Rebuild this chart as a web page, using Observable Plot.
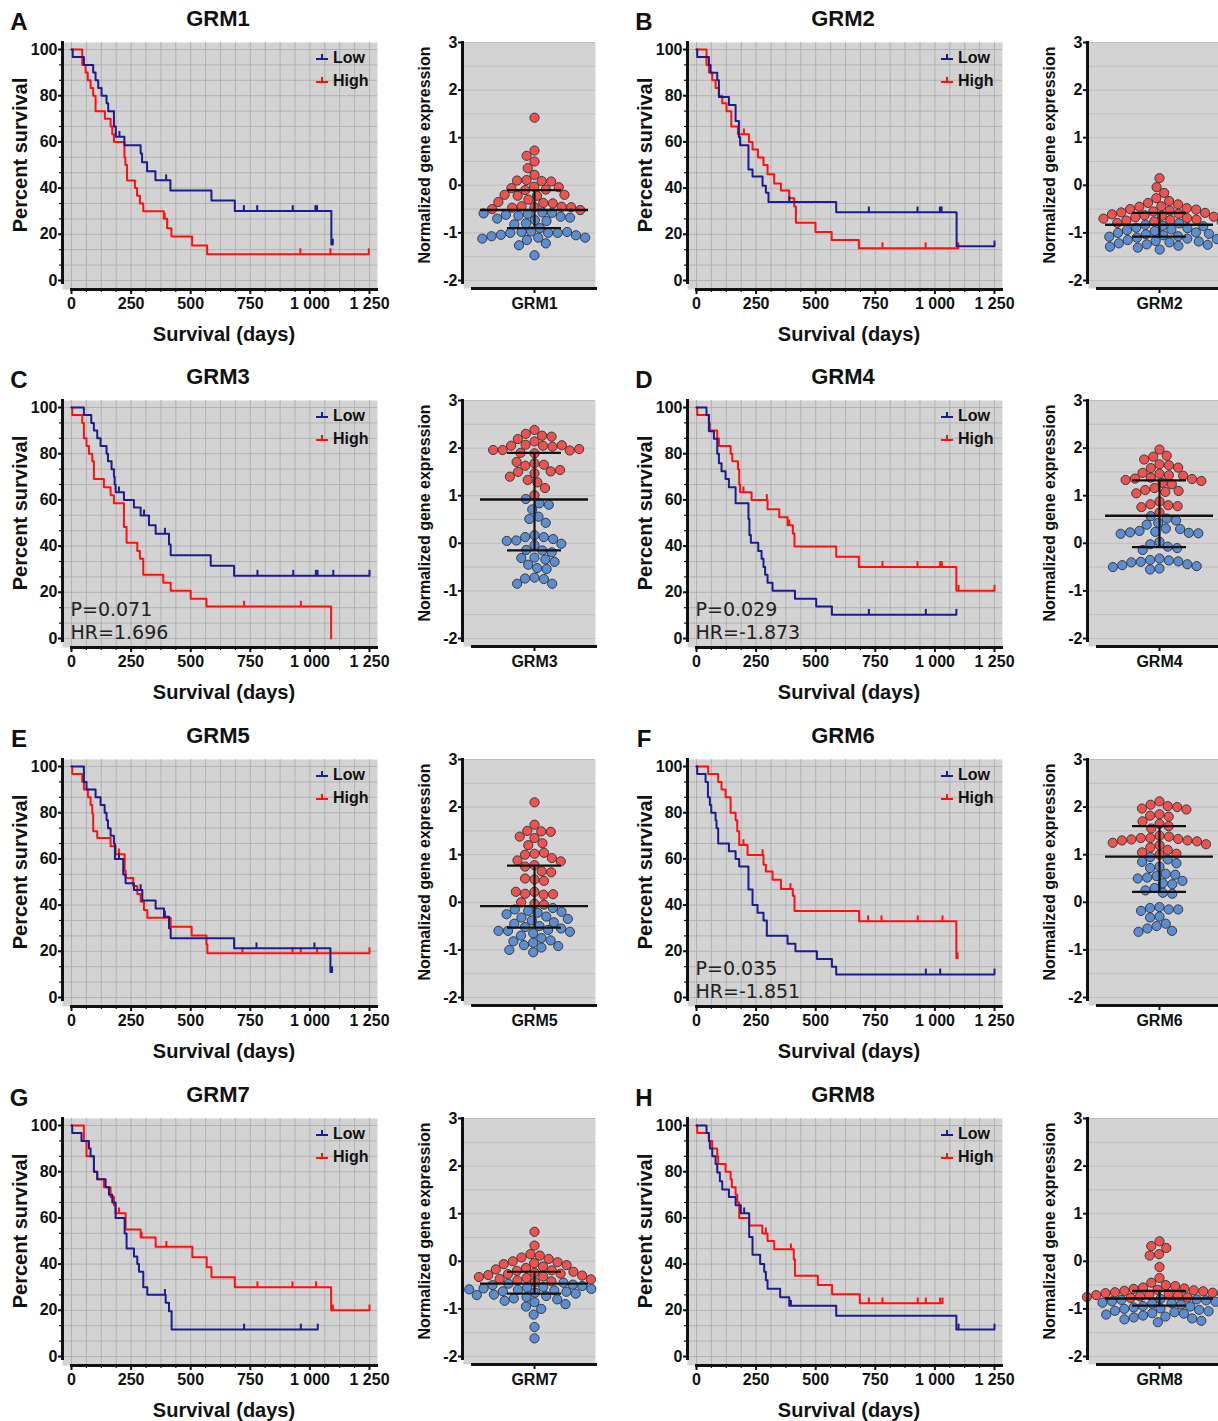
<!DOCTYPE html>
<html><head><meta charset="utf-8">
<script src="https://cdn.jsdelivr.net/npm/d3@7"></script>
<script src="https://cdn.jsdelivr.net/npm/@observablehq/plot@0.6"></script>
<style>
body{margin:0;background:#fff;}
#root{position:relative;width:1218px;height:1421px;overflow:hidden;font-family:"Liberation Sans",Arial,sans-serif;color:#111;}
.abs{position:absolute;}
.t{position:absolute;transform:translate(-50%,-50%);white-space:nowrap;line-height:1;font-weight:bold;color:#111;}
.ln{position:absolute;background:#111;}
</style></head><body><div id="root"></div>
<script>
// ---------- panel meta ----------
const genes = ["GRM1","GRM2","GRM3","GRM4","GRM5","GRM6","GRM7","GRM8"];
const panelLetters = ["A","B","C","D","E","F","G","H"];
const pLabels = ["","","P=0.071","P=0.029","","P=0.035","",""];
const hrLabels = ["","","HR=1.696","HR=-1.873","","HR=-1.851","",""];
const groupNames = ["Low","High"];
const kmXTicks = [0,250,500,750,1000,1250];
const kmYTicks = [0,20,40,60,80,100];
const exprYTicks = [-2,-1,0,1,2,3];

// ---------- Kaplan-Meier steps: [day, percent survival] ----------
const grm1LowSteps = [[0,100],[5,96.7],[52,93.3],[91,90],[101,86.7],[112,83.3],[126,80],[147,76.7],[154,73.3],[178,66.7],[186,62.2],[222,58.5],[290,55],[296,51.2],[317,47.3],[352,43.4],[415,39],[587,34.6],[685,30.1],[1090,15.6]];
const grm1LowCensor = [201,397,723,779,928,1023,1030,1096];
const grm1HighSteps = [[0,100],[45,93.3],[59,90],[68,86.7],[80,83.3],[91,80],[101,73.3],[140,70],[164,66.7],[171,63.3],[178,60],[222,53.3],[226,50],[233,43.3],[266,40],[275,36.7],[287,33.3],[301,30],[387,26.7],[401,22.6],[419,19],[506,15.2],[569,11.4]];
const grm1HighCensor = [391,960,1086,1247];

const grm2LowSteps = [[0,100],[3,96.7],[52,93.3],[59,89.9],[87,86.7],[94,79.4],[136,76],[164,69],[178,62],[183,58.5],[218,48],[235,45],[277,41],[291,38],[302,34],[586,29.5],[1091,14.8]];
const grm2LowCensor = [389,723,927,1021,1028,1250];
const grm2HighSteps = [[0,100],[42,93.3],[52,90],[66,86.7],[80,83.3],[94,80],[108,76.7],[126,73.3],[146,66.7],[174,63.3],[220,60],[235,56.7],[258,53.3],[281,50],[298,46],[326,42],[354,39],[389,35.6],[410,32],[417,25],[499,21],[567,17.5],[681,14]];
const grm2HighCensor = [199,780,961,1098];

const grm3LowSteps = [[0,100],[52,96.7],[83,93.3],[94,90],[108,86.7],[122,83.3],[147,80],[153,76.7],[168,73.3],[178,70],[181,66.7],[185,63.3],[220,60],[262,56.7],[290,53.3],[325,49],[353,45.4],[409,40.7],[416,36],[584,31.5],[682,27.2]];
const grm3LowCensor = [199,304,392,780,930,1025,1032,1098,1250];
const grm3HighSteps = [[0,100],[3,96.7],[45,93.3],[52,86.7],[63,83.3],[73,80],[87,76.7],[94,69],[136,65.5],[164,62],[178,58.6],[220,48.3],[231,41.4],[276,37.9],[287,34.5],[301,27.6],[385,24.1],[416,20.7],[500,17.2],[566,13.8],[1089,0]];
const grm3HighCensor = [724,962];

const grm4LowSteps = [[0,100],[42,96.7],[52,89.7],[73,86.5],[87,80],[94,75.9],[105,72.4],[122,69],[136,65.5],[164,58.6],[218,51.7],[222,44.8],[228,41.4],[259,37.9],[273,34.5],[281,31],[288,27.6],[298,24.1],[319,20.7],[413,17.2],[502,13.8],[568,10.3]];
const grm4LowCensor = [723,962,1090];
const grm4HighSteps = [[0,100],[3,96.7],[52,93.3],[56,90],[87,86.7],[94,83.3],[143,80],[150,76.7],[174,73.3],[179,66.7],[183,63.3],[231,60],[298,56],[347,52.5],[382,49],[404,45.5],[411,39.8],[586,35.4],[681,31],[1090,20.7]];
const grm4HighCensor = [197,295,389,780,927,1022,1029,1099,1250];

const grm5LowSteps = [[0,100],[52,93.3],[63,90],[101,86.7],[122,83.3],[139,80],[147,76.7],[153,73.3],[164,70],[178,66.7],[182,60],[217,53.3],[227,49.5],[262,46.5],[297,42],[353,38.5],[388,35],[409,30],[416,25.6],[682,21.3],[1086,11]];
const grm5LowCensor = [199,290,392,776,1019,1093];
const grm5HighSteps = [[0,100],[3,96.7],[45,93.3],[52,90],[69,86.7],[80,83.3],[87,79.6],[91,72],[108,69],[164,65.5],[185,62],[223,55],[227,51.7],[259,48.3],[276,44.8],[290,41.4],[304,37.9],[318,34.5],[416,30.6],[504,26.8],[566,23],[570,19.2]];
const grm5HighCensor = [199,717,927,962,1030,1250];

const grm6LowSteps = [[0,100],[3,96.7],[38,93.3],[48,86.7],[56,83.3],[62,80],[80,76.7],[84,73.3],[91,66.7],[136,63.3],[164,60],[179,56.7],[218,46.7],[235,40],[256,36.7],[281,33.3],[295,26.7],[382,23.3],[415,20],[505,16.7],[568,13.3],[586,10]];
const grm6LowCensor = [962,1022,1250];
const grm6HighSteps = [[0,100],[49,96.7],[91,93.3],[105,90],[122,86.7],[143,80],[164,76.7],[171,72],[179,66],[214,61.7],[281,57.5],[291,54.5],[319,51],[354,47],[404,44],[411,37.4],[682,33],[1090,17]];
const grm6HighCensor = [197,277,394,720,776,928,1032,1095];

const grm7LowSteps = [[0,100],[3,96.7],[42,93.3],[73,90],[80,86.7],[94,80],[108,76.7],[143,73.3],[157,70],[171,66.7],[185,60],[223,53.3],[231,46.7],[262,43.3],[276,40],[283,36.7],[301,30],[318,26.7],[395,23.3],[409,19.6],[420,11.7]];
const grm7LowCensor = [392,724,962,1033];
const grm7HighSteps = [[0,100],[52,93.3],[63,86.7],[94,80],[108,76.7],[136,73.3],[164,69],[178,65.5],[185,62],[227,55],[290,51.5],[353,47.5],[507,43],[567,38.6],[587,34.3],[685,30],[1089,20]];
const grm7HighCensor = [199,294,398,780,927,1026,1096,1250];

const grm8LowSteps = [[0,100],[42,96.7],[52,93.3],[56,90],[66,86.7],[80,83.3],[87,79.6],[98,75.9],[108,72.3],[136,69],[164,65.5],[186,62],[221,51.7],[235,44],[267,40],[284,36.7],[291,33],[298,29.3],[351,25.6],[389,22],[586,17.6],[1090,11.7]];
const grm8LowCensor = [200,396,1099,1250];
const grm8HighSteps = [[0,100],[3,96.7],[52,93.3],[66,90],[87,86.7],[91,83.3],[122,80],[143,76.7],[148,73.3],[164,70],[171,66.7],[179,60],[221,56.7],[276,53.3],[298,50],[326,46.4],[408,42],[413,35],[509,31],[569,27],[685,23]];
const grm8HighCensor = [291,396,723,780,928,962,1022,1032];

// ---------- normalized expression values ----------
const grm1ExprHigh = [1.42,0.73,0.62,0.5,0.36,0.22,0.11,0.09,0.08,0.1,-0.03,-0.06,-0.1,-0.04,-0.09,-0.2,-0.22,-0.22,-0.2,-0.3,-0.37,-0.38,-0.35,-0.44,-0.46,-0.47,-0.45,-0.46,-0.5,-0.52];
const grm1ExprLow = [-0.57,-0.58,-0.6,-0.62,-0.64,-0.66,-0.68,-0.7,-0.73,-0.75,-0.8,-0.82,-0.9,-0.97,-0.98,-1.0,-1.0,-1.0,-0.98,-1.04,-1.05,-1.07,-1.1,-1.1,-1.12,-1.15,-1.22,-1.26,-1.47,-0.59];
const grm2ExprHigh = [0.15,-0.04,-0.16,-0.27,-0.33,-0.37,-0.4,-0.44,-0.45,-0.48,-0.5,-0.51,-0.53,-0.55,-0.57,-0.58,-0.6,-0.61,-0.63,-0.64,-0.66,-0.67,-0.69,-0.7,-0.72,-0.73,-0.74,-0.76,-0.77,-0.79];
const grm2ExprLow = [-0.8,-0.83,-0.85,-0.86,-0.89,-0.9,-0.93,-0.94,-0.96,-0.99,-1.0,-1.02,-1.03,-1.05,-1.07,-1.08,-1.1,-1.12,-1.13,-1.15,-1.17,-1.18,-1.2,-1.22,-1.24,-1.25,-1.27,-1.29,-1.31,-1.35];
const grm3ExprHigh = [2.38,2.3,2.26,2.24,2.19,2.14,2.07,2.05,2.03,2.05,2.06,1.96,1.95,1.89,1.9,1.96,1.98,1.68,1.63,1.65,1.71,1.51,1.47,1.5,1.54,1.4,1.33,1.28,1.16,1.01];
const grm3ExprLow = [0.93,0.84,0.81,0.71,0.56,0.51,0.43,0.17,0.13,0.13,0.09,0.06,0.05,-0.01,-0.04,-0.14,-0.15,-0.19,-0.3,-0.31,-0.34,-0.39,-0.45,-0.52,-0.54,-0.72,-0.74,-0.75,-0.85,-0.85];
const grm4ExprHigh = [1.97,1.82,1.84,1.76,1.66,1.64,1.58,1.59,1.46,1.48,1.43,1.42,1.38,1.36,1.35,1.33,1.31,1.27,1.24,1.16,1.12,1.1,1.08,1.05,0.88,0.82,0.8,0.78,0.76,0.65];
const grm4ExprLow = [0.57,0.52,0.48,0.43,0.39,0.31,0.3,0.26,0.24,0.23,0.22,0.21,0.2,0.03,-0.02,-0.07,-0.1,-0.14,-0.32,-0.35,-0.36,-0.38,-0.39,-0.4,-0.44,-0.46,-0.48,-0.5,-0.53,-0.55];
const grm5ExprHigh = [2.1,1.63,1.5,1.49,1.48,1.35,1.38,1.2,1.24,1.02,1.0,1.04,0.93,0.88,0.86,0.78,0.75,0.65,0.63,0.48,0.5,0.45,0.22,0.18,0.16,0.17,0.22,-0.03,0.0,-0.05];
const grm5ExprLow = [-0.12,-0.15,-0.18,-0.2,-0.22,-0.25,-0.3,-0.32,-0.35,-0.38,-0.42,-0.45,-0.5,-0.52,-0.55,-0.58,-0.6,-0.62,-0.6,-0.65,-0.7,-0.75,-0.8,-0.82,-0.85,-0.9,-0.92,-0.95,-1.0,-1.05];
const grm6ExprHigh = [2.12,2.05,2.02,2.0,1.97,1.95,1.85,1.82,1.8,1.7,1.65,1.6,1.55,1.4,1.38,1.35,1.35,1.33,1.32,1.3,1.3,1.28,1.25,1.22,1.2,1.15,1.1,1.05,1.02,1.0];
const grm6ExprLow = [0.95,0.9,0.85,0.82,0.75,0.72,0.6,0.58,0.55,0.52,0.5,0.45,0.4,0.38,0.3,0.25,0.2,0.18,-0.1,-0.12,-0.15,-0.15,-0.18,-0.3,-0.32,-0.45,-0.5,-0.55,-0.6,-0.62];
const grm7ExprHigh = [0.62,0.33,0.15,0.12,0.08,0.05,0.0,-0.02,-0.04,-0.06,-0.08,-0.11,-0.14,-0.17,-0.19,-0.2,-0.22,-0.24,-0.26,-0.27,-0.29,-0.3,-0.32,-0.33,-0.35,-0.37,-0.38,-0.4,-0.42,-0.44];
const grm7ExprLow = [-0.45,-0.47,-0.49,-0.5,-0.52,-0.54,-0.55,-0.57,-0.58,-0.6,-0.61,-0.63,-0.64,-0.66,-0.68,-0.7,-0.71,-0.73,-0.75,-0.78,-0.8,-0.83,-0.86,-0.9,-0.95,-1.0,-1.12,-1.38,-1.62,-0.59];
const grm8ExprHigh = [0.42,0.32,0.28,0.15,0.12,-0.12,-0.35,-0.45,-0.5,-0.52,-0.55,-0.57,-0.58,-0.6,-0.61,-0.62,-0.63,-0.65,-0.66,-0.67,-0.68,-0.69,-0.7,-0.71,-0.72,-0.73,-0.74,-0.75,-0.76,-0.77];
const grm8ExprLow = [-0.79,-0.8,-0.81,-0.82,-0.84,-0.85,-0.87,-0.88,-0.89,-0.91,-0.92,-0.94,-0.95,-0.97,-0.99,-1.0,-1.02,-1.04,-1.05,-1.07,-1.09,-1.1,-1.12,-1.14,-1.16,-1.18,-1.2,-1.22,-1.25,-1.28];

// mean line and error bar ends
const exprMean  = [-0.52,-0.83,0.92,0.58,-0.08,0.96,-0.47,-0.78];
const exprUpper = [-0.1,-0.58,1.9,1.32,0.77,1.6,-0.22,-0.62];
const exprLower = [-0.9,-1.08,-0.15,-0.08,-0.53,0.22,-0.68,-0.93];

// ---------- collections ----------
const lowSteps = [grm1LowSteps,grm2LowSteps,grm3LowSteps,grm4LowSteps,grm5LowSteps,grm6LowSteps,grm7LowSteps,grm8LowSteps];
const lowCensor = [grm1LowCensor,grm2LowCensor,grm3LowCensor,grm4LowCensor,grm5LowCensor,grm6LowCensor,grm7LowCensor,grm8LowCensor];
const highSteps = [grm1HighSteps,grm2HighSteps,grm3HighSteps,grm4HighSteps,grm5HighSteps,grm6HighSteps,grm7HighSteps,grm8HighSteps];
const highCensor = [grm1HighCensor,grm2HighCensor,grm3HighCensor,grm4HighCensor,grm5HighCensor,grm6HighCensor,grm7HighCensor,grm8HighCensor];
const exprHigh = [grm1ExprHigh,grm2ExprHigh,grm3ExprHigh,grm4ExprHigh,grm5ExprHigh,grm6ExprHigh,grm7ExprHigh,grm8ExprHigh];
const exprLow = [grm1ExprLow,grm2ExprLow,grm3ExprLow,grm4ExprLow,grm5ExprLow,grm6ExprLow,grm7ExprLow,grm8ExprLow];

// ---------- styling ----------
const BLUE = "#1c1c8c", RED = "#ff1010";
const DOT_RED = "#f0524f", DOT_BLUE = "#5b8dd3";
const BG = "#d3d3d3", GRID = "#a9a9a9", GRID2 = "#bebebe";
const colX = [0, 625];
const rowY = [0, 358, 717, 1076];
const baseStyle = {background:"transparent", fontFamily:"'Liberation Sans', Arial, sans-serif", fontSize:"16px", fontWeight:"bold", color:"#111", overflow:"visible"};

const root = document.getElementById("root");
function put(el, left, top){ el.style.position="absolute"; el.style.left=left+"px"; el.style.top=top+"px"; root.appendChild(el); }
function txt(s, cx, cy, size, extra={}){
  const d = document.createElement("div"); d.className="t"; d.textContent=s;
  d.style.left=cx+"px"; d.style.top=cy+"px"; d.style.fontSize=size+"px";
  if (extra.rotate) d.style.transform="translate(-50%,-50%) rotate(-90deg)";
  root.appendChild(d);
}
function bar(left, top, w, h){
  const d = document.createElement("div"); d.className="ln";
  d.style.left=left+"px"; d.style.top=top+"px"; d.style.width=w+"px"; d.style.height=h+"px";
  root.appendChild(d);
}
const fmtDays = d => d >= 1000 ? `${Math.floor(d/1000)} ${String(d%1000).padStart(3,"0")}` : String(d);

function extendSteps(steps, cens){
  const last = steps[steps.length-1];
  const end = Math.max(last[0], ...cens);
  return end > last[0] ? [...steps, [end, last[1]]] : steps;
}
function survAt(steps, t){ let s = steps[0][1]; for (const [d,v] of steps) if (d <= t) s = v; return s; }
function censorMarks(steps, cens){ return cens.map(t => ({t, s: survAt(steps, t)})); }

function kmPlot(i){
  const lo = lowSteps[i], hi = highSteps[i];
  const marks = [
    Plot.frame({fill: BG, stroke: null}),
    Plot.gridX(d3.range(0, 1251, 62.5), {stroke: GRID, strokeOpacity: 1, strokeWidth: 0.8}),
    Plot.gridY(d3.range(0, 100.01, 100/15), {stroke: GRID, strokeOpacity: 1, strokeWidth: 0.8}),
    Plot.axisY(d3.range(0, 100.01, 100/15), {anchor:"left", tickSize: 3, tickFormat: () => "", strokeWidth: 1.2, label: null}),
    Plot.axisY(kmYTicks, {anchor:"left", tickSize: 4, tickPadding: 1, strokeWidth: 2, fontSize: 16, fontWeight: "bold", label: null}),
    Plot.axisX(d3.range(0, 1251, 62.5), {anchor:"bottom", tickSize: 3, tickFormat: () => "", strokeWidth: 1.2, label: null}),
    Plot.axisX(kmXTicks, {anchor:"bottom", tickSize: 5, tickPadding: 3, strokeWidth: 2, tickFormat: fmtDays, fontSize: 16, fontWeight: "bold", label: null}),
    Plot.line(extendSteps(hi, highCensor[i]), {x: d => d[0], y: d => d[1], curve: "step-after", stroke: RED, strokeWidth: 2}),
    Plot.ruleX(censorMarks(hi, highCensor[i]), {x: "t", y1: "s", y2: d => d.s + 2.3, stroke: RED, strokeWidth: 2}),
    Plot.line(extendSteps(lo, lowCensor[i]), {x: d => d[0], y: d => d[1], curve: "step-after", stroke: BLUE, strokeWidth: 2}),
    Plot.ruleX(censorMarks(lo, lowCensor[i]), {x: "t", y1: "s", y2: d => d.s + 2.3, stroke: BLUE, strokeWidth: 2})
  ];
  if (pLabels[i]) {
    marks.push(Plot.text([pLabels[i] + "\n" + hrLabels[i]], {
      text: d => d, frameAnchor: "bottom-left", textAnchor: "start", lineAnchor: "bottom",
      lineHeight: 1.16, dx: 8, dy: -9, fontSize: 19, fontWeight: "normal",
      fontFamily: "'DejaVu Sans', Verdana, sans-serif", fill: "#222"
    }));
  }
  return Plot.plot({
    width: 385, height: 320,
    marginLeft: 62, marginRight: 8, marginTop: 12, marginBottom: 61,
    insetLeft: 9, insetRight: 8, insetTop: 7, insetBottom: 9,
    x: {domain: [0, 1250]},
    y: {domain: [0, 100]},
    style: baseStyle,
    marks
  });
}

function dotPlot(i){
  const g = genes[i];
  const data = [
    ...exprHigh[i].map(v => ({v, grp: groupNames[1]})),
    ...exprLow[i].map(v => ({v, grp: groupNames[0]}))
  ];
  return Plot.plot({
    width: 210, height: 290,
    marginLeft: 63, marginRight: 15, marginTop: 12, marginBottom: 32,
    insetLeft: 10, insetBottom: 8,
    x: {type: "band", domain: [g], padding: 0.06},
    y: {domain: [-2, 3]},
    color: {type: "identity"},
    style: baseStyle,
    marks: [
      Plot.frame({fill: BG, stroke: null}),
      Plot.gridY(d3.range(-2, 3.01, 0.5), {stroke: GRID2, strokeOpacity: 1, strokeWidth: 1}),
      Plot.axisY(exprYTicks, {anchor: "left", tickSize: 5, tickPadding: 1, strokeWidth: 2, tickFormat: d => String(d), fontSize: 16, fontWeight: "bold", label: null}),
      Plot.axisX([g], {anchor: "bottom", tickSize: 5, tickPadding: 4, strokeWidth: 2, fontSize: 16, fontWeight: "bold", label: null}),
      // the band scale adds half a bandwidth to every x position; dx brings the swarm back to the band centre
      Plot.dot(data, Plot.dodgeX({anchor: "middle", padding: 0.3}, {
        y: "v", r: 4.6, dx: -49,
        fill: d => d.grp === "High" ? DOT_RED : DOT_BLUE,
        stroke: "#3a3a3a", strokeWidth: 1
      })),
      Plot.ruleX([g], {x: d => d, y1: () => exprLower[i], y2: () => exprUpper[i], stroke: "#111", strokeWidth: 2.2}),
      Plot.tickY([exprMean[i]], {x: () => g, y: d => d, stroke: "#111", strokeWidth: 2.4}),
      Plot.tickY([exprUpper[i], exprLower[i]], {x: () => g, y: d => d, insetLeft: 27, insetRight: 27, stroke: "#111", strokeWidth: 2.2})
    ]
  });
}

function legend(ox, oy){
  const d = document.createElement("div");
  d.innerHTML = [["Low", BLUE], ["High", RED]].map(([name, c]) =>
    `<div style="display:flex;align-items:center;height:23px;">
      <svg width="12" height="12" style="display:block"><line x1="0" x2="12" y1="7" y2="7" stroke="${c}" stroke-width="2"/><line x1="6" x2="6" y1="7" y2="2" stroke="${c}" stroke-width="2"/></svg>
      <span style="margin-left:5px;font-size:16px;font-weight:bold;line-height:1;color:#111">${name}</span></div>`).join("");
  put(d, ox + 316, oy + 46);
}

genes.forEach((g, i) => {
  const ox = colX[i % 2], oy = rowY[Math.floor(i / 2)];
  const km = kmPlot(i); put(km, ox, oy + 30);
  const dp = dotPlot(i); put(dp, ox + 400, oy + 30);
  // axis lines
  bar(ox + 60.5, oy + 41, 3, 243);
  bar(ox + 70, oy + 287.5, 308, 3);
  bar(ox + 460.5, oy + 41, 3, 243);
  bar(ox + 471, oy + 287, 126, 3);
  // texts
  txt(panelLetters[i], ox + 19, oy + 22, 24);
  txt(g, ox + 218, oy + 19, 22);
  txt("Percent survival", ox + 20, oy + 155, 20, {rotate: true});
  txt("Survival (days)", ox + 224, oy + 334, 20);
  txt("Normalized gene expression", ox + 425, oy + 155, 16, {rotate: true});
  legend(ox, oy);
});
</script></body></html>
